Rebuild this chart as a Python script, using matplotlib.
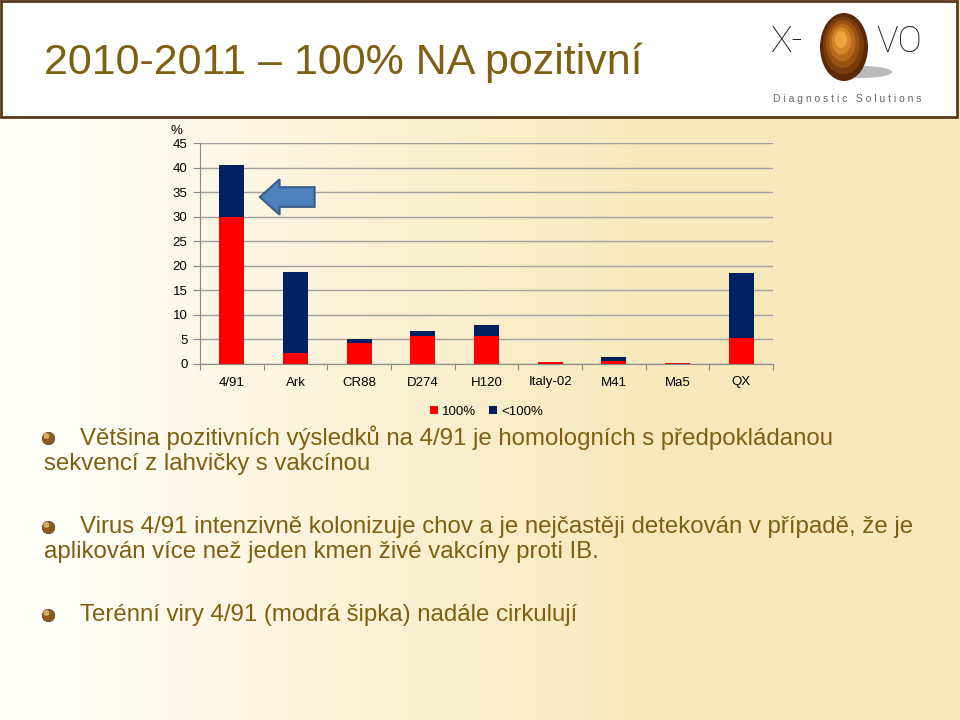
import numpy as np
import matplotlib.pyplot as plt
from matplotlib.patches import Rectangle, Ellipse, FancyArrow

plt.rcParams['font.family'] = ['Liberation Sans', 'DejaVu Sans']

# data
kmeny = ['4/91', 'Ark', 'CR88', 'D274', 'H120', 'Italy-02', 'M41', 'Ma5', 'QX']
plne = [30.0, 2.2, 4.2, 5.7, 5.7, 0.4, 0.7, 0.2, 5.3]        # 100%
castecne = [10.5, 16.6, 0.8, 1.0, 2.3, 0.0, 0.8, 0.0, 13.3]  # <100%
yticks = [0, 5, 10, 15, 20, 25, 30, 35, 40, 45]

nadpis = '2010-2011 – 100% NA pozitivní'
body = [
    ('Většina pozitivních výsledků na 4/91 je homologních s předpokládanou',
     'sekvencí z lahvičky s vakcínou'),
    ('Virus 4/91 intenzivně kolonizuje chov a je nejčastěji detekován v případě, že je',
     'aplikován více než jeden kmen živé vakcíny proti IB.'),
    ('Terénní viry 4/91 (modrá šipka) nadále cirkulují', None),
]

hneda = '#7F5F10'
cervena = '#FF0000'
modra = '#002060'

fig = plt.figure(figsize=(9.6, 7.2), dpi=100)

# pozadi s prechodem
bg = fig.add_axes([0, 0, 1, 1], zorder=0)
bg.axis('off')
g = np.linspace(0, 1, 256)
g = np.clip((g - 0.06) / 0.62, 0, 1) ** 0.85
c0 = np.array([1.0, 0.997, 0.98])
c1 = np.array([0.973, 0.912, 0.735])
img = c0[None, :] + (c1 - c0)[None, :] * g[:, None]
bg.imshow(img[None, :, :], aspect='auto', extent=[0, 1, 0, 1])
bg.set_xlim(0, 1)
bg.set_ylim(0, 1)

# hlavicka
bg.add_patch(Rectangle((0.001, 1 - 117 / 720), 0.996, 117 / 720 - 0.002,
                       facecolor='white', edgecolor='#5A3A18', linewidth=2.0, zorder=2))
fig.text(44 / 960, 1 - 63 / 720, nadpis, fontsize=31, color=hneda, va='center', ha='left')

# logo
fig.text(770 / 960, 1 - 42 / 720, 'X-', fontsize=26, color='#1A1A1A', va='center', ha='left',
         family=['Roboto', 'DejaVu Sans'], weight='light')
fig.text(876 / 960, 1 - 42 / 720, 'VO', fontsize=26, color='#1A1A1A', va='center', ha='left',
         family=['Roboto', 'DejaVu Sans'], weight='light')
bg.add_patch(Ellipse((862 / 960, 1 - 72 / 720), 60 / 960, 12 / 720, facecolor='#777777',
                     alpha=0.5, edgecolor='none', zorder=3))
for k, col in enumerate(['#5A2A08', '#7A3C0C', '#9A5212', '#B86A1C', '#D4862A', '#EAA43C']):
    s = 1 - k * 0.15
    bg.add_patch(Ellipse((844 / 960 - (1 - s) * 0.004, 1 - (47 + (1 - s) * -10) / 720),
                         48 / 960 * s, 68 / 720 * s, facecolor=col, edgecolor='none', zorder=4))
fig.text(773 / 960, 1 - 99 / 720, 'D i a g n o s t i c   S o l u t i o n s', fontsize=7.5,
         color='#666666', va='center', ha='left')

# graf
ax = fig.add_axes([200 / 960, 1 - 364 / 720, 573 / 960, 221 / 720], zorder=3)
ax.patch.set_alpha(0)
x = np.arange(len(kmeny))
ax.bar(x, plne, width=0.39, color=cervena, label='100%', zorder=3)
ax.bar(x, castecne, width=0.39, bottom=plne, color=modra, label='<100%', zorder=3)
ax.set_xlim(-0.5, len(kmeny) - 0.5)
ax.set_ylim(0, 45)
ax.set_yticks(yticks)
ax.yaxis.grid(True, color='#A0A0A0', linewidth=1.0, zorder=0)
ax.set_axisbelow(True)
ax.set_xticks(np.arange(len(kmeny) + 1) - 0.5)
ax.set_xticklabels([])
ax.set_xticks(x, minor=True)
ax.set_xticklabels(kmeny, minor=True)
ax.tick_params(axis='x', which='minor', length=0, pad=9, labelsize=9.5)
ax.tick_params(axis='x', which='major', length=4, color='#888888')
ax.tick_params(axis='y', length=5, color='#888888', labelsize=9.5, pad=4)
for s in ['top', 'right']:
    ax.spines[s].set_visible(False)
for s in ['left', 'bottom']:
    ax.spines[s].set_color('#888888')
ax.text(-0.03, 1.025, '%', transform=ax.transAxes, fontsize=9.5, ha='right', va='bottom')

# modra sipka na 4/91
ax.add_patch(FancyArrow(1.3, 34, -0.86, 0, width=4.0, head_width=7.2, head_length=0.31,
                        length_includes_head=True, facecolor='#4F81BD', edgecolor='#385D8A',
                        linewidth=1.5, zorder=4))

leg = ax.legend(loc='upper center', bbox_to_anchor=(0.5, -0.135), ncol=2, frameon=False,
                fontsize=9.5, handlelength=0.6, handleheight=0.6, handletextpad=0.3,
                columnspacing=1.0)

# odrazky a text
rows = [(438, 464), (527, 552), (615, None)]
for (a, b), (y1, y2) in zip(body, rows):
    bg.scatter([48 / 960], [1 - y1 / 720], s=80, color='#8A5A20', edgecolors='#5A3A10',
               linewidths=0.5, zorder=5)
    bg.scatter([46.5 / 960], [1 - (y1 - 2) / 720], s=18, color='#D8A868', zorder=6,
               edgecolors='none')
    fig.text(80 / 960, 1 - y1 / 720, a, fontsize=17.3, color=hneda, va='center', ha='left')
    if b:
        fig.text(44 / 960, 1 - y2 / 720, b, fontsize=17.3, color=hneda, va='center', ha='left')

fig.savefig('out.png', dpi=100)
